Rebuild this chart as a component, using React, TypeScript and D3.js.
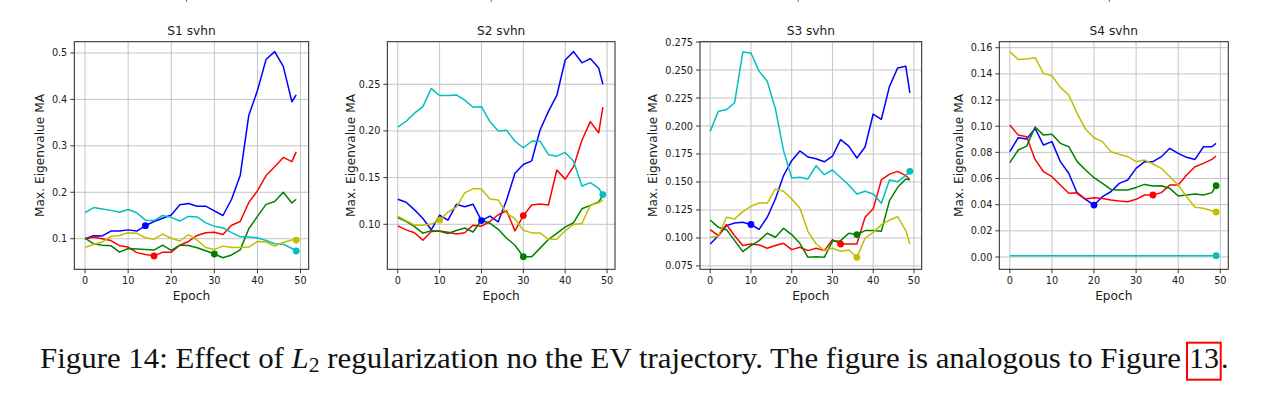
import React from "react";
import * as d3 from "d3";

const epochs = [0, 2, 4, 6, 8, 10, 12, 14, 16, 18, 20, 22, 24, 26, 28, 30, 32, 34, 36, 38, 40, 42, 44, 46, 48, 49];
const xTicks = [0, 10, 20, 30, 40, 50];
const titles = ["S1 svhn", "S2 svhn", "S3 svhn", "S4 svhn"];
const seriesColors = ["#0000ff", "#ff0000", "#008000", "#00bfbf", "#bfbf00"];

// S1
const s1Blue = [0.100, 0.1065, 0.106, 0.1165, 0.1165, 0.119, 0.1165, 0.128, 0.137, 0.144, 0.151, 0.173, 0.176, 0.170, 0.170, 0.160, 0.150, 0.185, 0.236, 0.366, 0.419, 0.486, 0.503, 0.471, 0.395, 0.410];
const s1Red = [0.100, 0.103, 0.100, 0.096, 0.085, 0.082, 0.070, 0.066, 0.063, 0.071, 0.071, 0.086, 0.094, 0.107, 0.113, 0.114, 0.109, 0.129, 0.137, 0.178, 0.203, 0.236, 0.255, 0.275, 0.266, 0.287];
const s1Green = [0.101, 0.089, 0.086, 0.085, 0.071, 0.079, 0.078, 0.077, 0.0755, 0.086, 0.075, 0.086, 0.0855, 0.0805, 0.074, 0.067, 0.059, 0.065, 0.076, 0.1215, 0.148, 0.174, 0.180, 0.200, 0.177, 0.185];
const s1Cyan = [0.156, 0.167, 0.164, 0.161, 0.157, 0.163, 0.156, 0.140, 0.139, 0.150, 0.146, 0.138, 0.148, 0.147, 0.134, 0.127, 0.123, 0.113, 0.104, 0.1035, 0.102, 0.096, 0.089, 0.088, 0.079, 0.0735];
const s1Yellow = [0.081, 0.088, 0.093, 0.105, 0.107, 0.113, 0.112, 0.102, 0.099, 0.110, 0.101, 0.095, 0.109, 0.097, 0.081, 0.077, 0.084, 0.081, 0.081, 0.082, 0.094, 0.093, 0.084, 0.092, 0.097, 0.097];
const s1Markers = [14, 16, 30, 49, 49];
const s1Ticks = [0.1, 0.2, 0.3, 0.4, 0.5];

// S2
const s2Blue = [0.1268, 0.1236, 0.1155, 0.1062, 0.0941, 0.1097, 0.1045, 0.1214, 0.1188, 0.1214, 0.1040, 0.1088, 0.1027, 0.1260, 0.1547, 0.1640, 0.1680, 0.201, 0.221, 0.238, 0.276, 0.285, 0.273, 0.2775, 0.2675, 0.250];
const s2Red = [0.0983, 0.0940, 0.0910, 0.0830, 0.0923, 0.0928, 0.0915, 0.0896, 0.0910, 0.0991, 0.0980, 0.1030, 0.1102, 0.1145, 0.0930, 0.1093, 0.1207, 0.1218, 0.1207, 0.1582, 0.1484, 0.1618, 0.190, 0.210, 0.198, 0.2254];
const s2Green = [0.1072, 0.1032, 0.0975, 0.0905, 0.0932, 0.0926, 0.0902, 0.0933, 0.0960, 0.0917, 0.1046, 0.1012, 0.0946, 0.0851, 0.0776, 0.0653, 0.0653, 0.0745, 0.0837, 0.0903, 0.0970, 0.1017, 0.1166, 0.1203, 0.1240, 0.1310];
const s2Cyan = [0.204, 0.2104, 0.219, 0.226, 0.2454, 0.238, 0.238, 0.2386, 0.233, 0.2254, 0.226, 0.210, 0.200, 0.2007, 0.189, 0.182, 0.189, 0.189, 0.1746, 0.173, 0.177, 0.1675, 0.141, 0.1446, 0.1386, 0.1318];
const s2Yellow = [0.1088, 0.1040, 0.0991, 0.0991, 0.1002, 0.1045, 0.1132, 0.1184, 0.1337, 0.1383, 0.1378, 0.1272, 0.1260, 0.1120, 0.1060, 0.0937, 0.0908, 0.0908, 0.0839, 0.0839, 0.0930, 0.0998, 0.1008, 0.1203, 0.1230, 0.1260];
const s2Markers = [20, 30, 30, 49, 10];
const s2Ticks = [0.10, 0.15, 0.20, 0.25];

// S3
const s3Blue = [0.0946, 0.102, 0.111, 0.1134, 0.114, 0.112, 0.1077, 0.1185, 0.1348, 0.1557, 0.169, 0.1777, 0.1723, 0.1708, 0.168, 0.173, 0.1878, 0.182, 0.1714, 0.1812, 0.2107, 0.206, 0.2354, 0.2518, 0.2533, 0.2295];
const s3Red = [0.1074, 0.102, 0.112, 0.102, 0.0932, 0.0946, 0.0938, 0.0908, 0.0932, 0.0952, 0.0896, 0.0917, 0.0887, 0.0908, 0.0887, 0.0985, 0.0945, 0.0946, 0.0946, 0.1185, 0.126, 0.1518, 0.157, 0.1595, 0.1557, 0.152];
const s3Green = [0.116, 0.1095, 0.1074, 0.0976, 0.0878, 0.0932, 0.0976, 0.1042, 0.1006, 0.1086, 0.103, 0.0952, 0.0827, 0.0833, 0.0827, 0.097, 0.0976, 0.1042, 0.103, 0.1066, 0.1066, 0.106, 0.1333, 0.1452, 0.1527, 0.152];
const s3Cyan = [0.1952, 0.2131, 0.2146, 0.2208, 0.2661, 0.2652, 0.249, 0.2399, 0.2155, 0.178, 0.1536, 0.1542, 0.1527, 0.1646, 0.1565, 0.1607, 0.154, 0.1473, 0.1393, 0.1417, 0.1393, 0.131, 0.1518, 0.1503, 0.1557, 0.1595];
const s3Yellow = [0.1006, 0.1015, 0.1185, 0.117, 0.1235, 0.1283, 0.1312, 0.1312, 0.1438, 0.1417, 0.1348, 0.1268, 0.1057, 0.0946, 0.0887, 0.0908, 0.0881, 0.0893, 0.0827, 0.0997, 0.105, 0.1119, 0.116, 0.119, 0.1066, 0.0946];
const s3Markers = [10, 32, 36, 49, 36];
const s3Ticks = [0.075, 0.100, 0.125, 0.150, 0.175, 0.200, 0.225, 0.250, 0.275];

// S4
const s4Blue = [0.0805, 0.0912, 0.0902, 0.0983, 0.0856, 0.0882, 0.0729, 0.064, 0.0487, 0.0441, 0.0397, 0.0461, 0.0499, 0.0563, 0.0589, 0.0678, 0.0729, 0.0729, 0.0767, 0.0831, 0.0792, 0.0762, 0.0746, 0.0843, 0.0843, 0.0869];
const s4Red = [0.1009, 0.0932, 0.092, 0.0746, 0.0652, 0.0614, 0.055, 0.0487, 0.0492, 0.0443, 0.0453, 0.0448, 0.0436, 0.0428, 0.0423, 0.0441, 0.0474, 0.0474, 0.0492, 0.055, 0.055, 0.0627, 0.069, 0.0716, 0.0746, 0.0772];
const s4Green = [0.0721, 0.0818, 0.0848, 0.0994, 0.0932, 0.0938, 0.0869, 0.0843, 0.0729, 0.0665, 0.0606, 0.0563, 0.0517, 0.0512, 0.0512, 0.0532, 0.0555, 0.0543, 0.0545, 0.0525, 0.0466, 0.0474, 0.0482, 0.0474, 0.0492, 0.0545];
const s4Cyan = [0.001, 0.001, 0.001, 0.001, 0.001, 0.001, 0.001, 0.001, 0.001, 0.001, 0.001, 0.001, 0.001, 0.001, 0.001, 0.001, 0.001, 0.001, 0.001, 0.001, 0.001, 0.001, 0.001, 0.001, 0.001, 0.001];
const s4Yellow = [0.157, 0.151, 0.1513, 0.1524, 0.1404, 0.1386, 0.1297, 0.1238, 0.1098, 0.0976, 0.0912, 0.0882, 0.0805, 0.0785, 0.0767, 0.0729, 0.0741, 0.0711, 0.0678, 0.0614, 0.055, 0.0461, 0.038, 0.0372, 0.0354, 0.0344];
const s4Markers = [20, 34, 49, 49, 49];
const s4Ticks = [0.00, 0.02, 0.04, 0.06, 0.08, 0.10, 0.12, 0.14, 0.16];

const panelSeries = [
  [s1Blue, s1Red, s1Green, s1Cyan, s1Yellow],
  [s2Blue, s2Red, s2Green, s2Cyan, s2Yellow],
  [s3Blue, s3Red, s3Green, s3Cyan, s3Yellow],
  [s4Blue, s4Red, s4Green, s4Cyan, s4Yellow],
];
const panelMarkers = [s1Markers, s2Markers, s3Markers, s4Markers];
const panelTicks = [s1Ticks, s2Ticks, s3Ticks, s4Ticks];
const panelTickFormat = [".1f", ".2f", ".3f", ".2f"];
const panelYDomain: [number, number][] = [
  [0.0341, 0.5243],
  [0.0518, 0.2956],
  [0.0720, 0.2753],
  [-0.0094, 0.1646],
];

// layout (pixels)
const panelLeft = [74.3, 387.3, 700, 999.3];
const panelRight = [308.7, 615, 921.7, 1228.3];
const panelYLabelX = [43.5, 354.5, 656.5, 962.5];
const axTop = 41.7;
const axBottom = 269.3;
const xDomain: [number, number] = [-2.5, 51.9];

const FONT = "'DejaVu Sans', sans-serif";
const topMarks = [186.6, 491.2, 798.2, 1109.3];

function Panel({ i }: { i: number }) {
  const x = d3.scaleLinear().domain(xDomain).range([panelLeft[i], panelRight[i]]);
  const y = d3.scaleLinear().domain(panelYDomain[i]).range([axBottom, axTop]);
  const fmt = d3.format(panelTickFormat[i]);
  const line = d3
    .line<number>()
    .x((_, k) => x(epochs[k]))
    .y((v) => y(v));
  const series = panelSeries[i];
  const markers = panelMarkers[i];
  const cx = (panelLeft[i] + panelRight[i]) / 2;
  const cy = (axTop + axBottom) / 2;
  return (
    <g>
      {xTicks.map((t) => (
        <line key={"gx" + t} x1={x(t)} x2={x(t)} y1={axTop} y2={axBottom} stroke="#c4c4c4" strokeWidth={1} />
      ))}
      {panelTicks[i].map((t) => (
        <line key={"gy" + t} x1={panelLeft[i]} x2={panelRight[i]} y1={y(t)} y2={y(t)} stroke="#c4c4c4" strokeWidth={1} />
      ))}
      {series.map((vals, s) => (
        <path key={"s" + s} d={line(vals) || ""} fill="none" stroke={seriesColors[s]} strokeWidth={1.5} strokeLinejoin="round" />
      ))}
      {series.map((vals, s) => {
        const k = epochs.indexOf(markers[s]);
        return <circle key={"m" + s} cx={x(epochs[k])} cy={y(vals[k])} r={3.4} fill={seriesColors[s]} />;
      })}
      <rect
        x={panelLeft[i]}
        y={axTop}
        width={panelRight[i] - panelLeft[i]}
        height={axBottom - axTop}
        fill="none"
        stroke="#222"
        strokeWidth={1}
      />
      {xTicks.map((t) => (
        <g key={"xt" + t}>
          <line x1={x(t)} x2={x(t)} y1={axBottom} y2={axBottom + 4} stroke="#222" strokeWidth={0.9} />
          <text x={x(t)} y={axBottom + 14.5} textAnchor="middle" fontFamily={FONT} fontSize={9.7} fill="#1a1a1a">
            {t}
          </text>
        </g>
      ))}
      {panelTicks[i].map((t) => (
        <g key={"yt" + t}>
          <line x1={panelLeft[i] - 4} x2={panelLeft[i]} y1={y(t)} y2={y(t)} stroke="#222" strokeWidth={0.9} />
          <text
            x={panelLeft[i] - 7}
            y={y(t)}
            textAnchor="end"
            dominantBaseline="central"
            fontFamily={FONT}
            fontSize={9.7}
            fill="#1a1a1a"
          >
            {fmt(t)}
          </text>
        </g>
      ))}
      <text x={cx} y={35.3} textAnchor="middle" fontFamily={FONT} fontSize={12.2} fill="#1a1a1a">
        {titles[i]}
      </text>
      <text x={cx} y={299.5} textAnchor="middle" fontFamily={FONT} fontSize={12.2} fill="#1a1a1a">
        Epoch
      </text>
      <text
        transform={`translate(${panelYLabelX[i]},${cy}) rotate(-90)`}
        textAnchor="middle"
        fontFamily={FONT}
        fontSize={12.2}
        fill="#1a1a1a"
      >
        Max. Eigenvalue MA
      </text>
    </g>
  );
}

export default function App() {
  return (
    <svg
      width={1277}
      height={402}
      style={{ position: "absolute", left: 0, top: 0, background: "#fff" }}
      xmlns="http://www.w3.org/2000/svg"
    >
      <rect x={0} y={0} width={1277} height={402} fill="#fff" />
      {topMarks.map((mx, k) => (
        <line key={"tm" + k} x1={mx} x2={mx} y1={0} y2={2} stroke="#666" strokeWidth={1} />
      ))}
      {[0, 1, 2, 3].map((i) => (
        <Panel key={i} i={i} />
      ))}
      <text
        x={40}
        y={368.3}
        fontFamily="'Liberation Serif', 'Times New Roman', serif"
        fontSize={30}
        fill="#111"
        textLength={1141}
        lengthAdjust="spacingAndGlyphs"
      >
        Figure 14: Effect of <tspan fontStyle="italic">L</tspan>
        <tspan fontSize={21} dy={3.4}>2</tspan>
        <tspan dy={-3.4}> regularization no the EV trajectory. The figure is analogous to Figure</tspan>
      </text>
      <text x={1189} y={368.3} fontFamily="'Liberation Serif', 'Times New Roman', serif" fontSize={30} fill="#111">
        13
      </text>
      <text x={1221} y={368.3} fontFamily="'Liberation Serif', 'Times New Roman', serif" fontSize={30} fill="#111">
        .
      </text>
      <rect x={1187} y={342.7} width={33.7} height={37} fill="none" stroke="#ff0000" strokeWidth={2} />
    </svg>
  );
}
